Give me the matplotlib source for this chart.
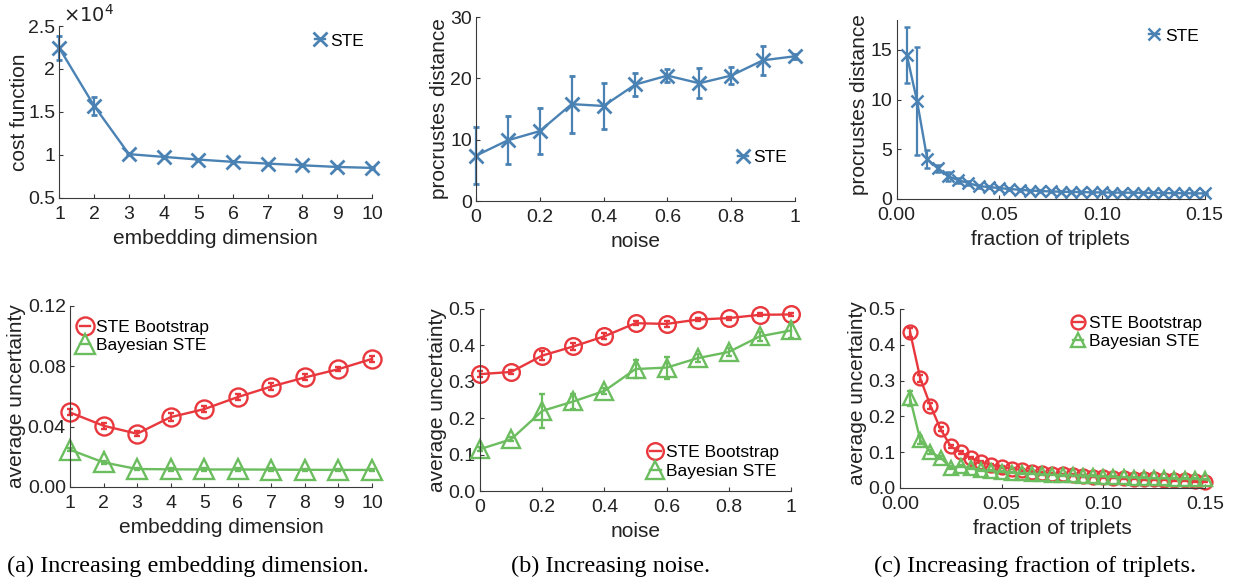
import matplotlib.pyplot as plt
from matplotlib.ticker import FixedLocator

# 字体
plt.rcParams['font.family'] = ['Liberation Sans', 'DejaVu Sans']
plt.rcParams['axes.unicode_minus'] = False

# ---------------- 数据 ----------------
dims = [1, 2, 3, 4, 5, 6, 7, 8, 9, 10]
noise = [0.0, 0.1, 0.2, 0.3, 0.4, 0.5, 0.6, 0.7, 0.8, 0.9, 1.0]
fractions = [0.005, 0.010, 0.015, 0.020, 0.025, 0.030, 0.035, 0.040, 0.045, 0.050,
             0.055, 0.060, 0.065, 0.070, 0.075, 0.080, 0.085, 0.090, 0.095, 0.100,
             0.105, 0.110, 0.115, 0.120, 0.125, 0.130, 0.135, 0.140, 0.145, 0.150]

# cost function (x 10^4)
cost_e4 = [2.24, 1.57, 1.01, 0.978, 0.947, 0.92, 0.90, 0.88, 0.861, 0.85]
cost_err_e4 = [0.14, 0.10, 0.012, 0.01, 0.01, 0.008, 0.008, 0.008, 0.008, 0.008]

# procrustes distance vs noise
proc_noise = [7.4, 9.9, 11.4, 15.8, 15.5, 19.0, 20.45, 19.2, 20.45, 22.95, 23.6]
proc_noise_err = [4.6, 3.9, 3.8, 4.65, 3.7, 1.95, 1.1, 2.45, 1.45, 2.35, 0.4]

# procrustes distance vs fraction of triplets
proc_frac = [14.5, 9.85, 4.0, 3.1, 2.3, 1.9, 1.6, 1.3, 1.2, 1.1,
             1.0, 0.93, 0.85, 0.8, 0.76, 0.73, 0.71, 0.69, 0.67, 0.66,
             0.65, 0.64, 0.63, 0.62, 0.61, 0.60, 0.59, 0.58, 0.57, 0.56]
proc_frac_err = [2.8, 5.4, 0.9, 0.35, 0.45, 0.25, 0.2, 0.15, 0.1, 0.1,
                 0.08, 0.08, 0.06, 0.06, 0.05, 0.05, 0.05, 0.05, 0.05, 0.05,
                 0.05, 0.05, 0.05, 0.05, 0.05, 0.05, 0.05, 0.05, 0.05, 0.05]

# average uncertainty vs embedding dimension
unc_dim_boot = [0.0494, 0.0406, 0.0353, 0.0463, 0.0516, 0.0596, 0.0666, 0.0726, 0.0781, 0.0849]
unc_dim_boot_err = [0.002, 0.002, 0.0015, 0.0025, 0.002, 0.002, 0.0025, 0.002, 0.0015, 0.002]
unc_dim_bayes = [0.0247, 0.0163, 0.0119, 0.0117, 0.0116, 0.0116, 0.0115, 0.0114, 0.0113, 0.0113]
unc_dim_bayes_err = [0.001, 0.001, 0.0008, 0.0008, 0.0008, 0.0008, 0.0008, 0.0008, 0.0008, 0.0008]

# average uncertainty vs noise
unc_noise_boot = [0.321, 0.327, 0.372, 0.397, 0.425, 0.461, 0.459, 0.471, 0.475, 0.484, 0.485]
unc_noise_boot_err = [0.008, 0.005, 0.012, 0.01, 0.008, 0.006, 0.008, 0.005, 0.004, 0.004, 0.004]
unc_noise_bayes = [0.115, 0.142, 0.22, 0.246, 0.275, 0.335, 0.339, 0.365, 0.382, 0.425, 0.441]
unc_noise_bayes_err = [0.005, 0.006, 0.047, 0.02, 0.008, 0.025, 0.03, 0.01, 0.01, 0.012, 0.022]

# average uncertainty vs fraction of triplets
unc_frac_boot = [0.435, 0.306, 0.23, 0.164, 0.116, 0.10, 0.083, 0.072, 0.065, 0.058,
                 0.054, 0.05, 0.046, 0.043, 0.04, 0.038, 0.036, 0.034, 0.032, 0.03,
                 0.029, 0.027, 0.026, 0.025, 0.024, 0.023, 0.022, 0.021, 0.02, 0.018]
unc_frac_boot_err = [0.012, 0.01, 0.008, 0.006, 0.005, 0.004, 0.003, 0.003, 0.002, 0.002,
                     0.002, 0.002, 0.002, 0.002, 0.002, 0.002, 0.002, 0.002, 0.002, 0.002,
                     0.002, 0.002, 0.002, 0.002, 0.002, 0.002, 0.002, 0.002, 0.002, 0.002]
unc_frac_bayes = [0.25, 0.134, 0.1, 0.085, 0.056, 0.062, 0.055, 0.05, 0.047, 0.045,
                  0.043, 0.041, 0.04, 0.038, 0.037, 0.036, 0.035, 0.034, 0.033, 0.032,
                  0.031, 0.03, 0.029, 0.028, 0.027, 0.027, 0.026, 0.025, 0.025, 0.024]
unc_frac_bayes_err = [0.02, 0.01, 0.006, 0.005, 0.004, 0.003, 0.003, 0.002, 0.002, 0.002,
                      0.002, 0.002, 0.002, 0.002, 0.002, 0.002, 0.002, 0.002, 0.002, 0.002,
                      0.002, 0.002, 0.002, 0.002, 0.002, 0.002, 0.002, 0.002, 0.002, 0.002]

captions = ['(a) Increasing embedding dimension.',
            '(b) Increasing noise.',
            '(c) Increasing fraction of triplets.']

BLUE = '#4B82B4'
RED = '#E8383D'
GREEN = '#6CBD5F'
AXC = '#3a3a3a'
TICK_FS = 14
LABEL_FS = 15
LEG_FS = 12.5

fig = plt.figure(figsize=(12.34, 5.83), dpi=100)


def make_ax(rect, xlim, ylim, xticks, xlabels, yticks, ylabels, xlabel, ylabel,
            ylab_x, ylab_y=0.5):
    ax = fig.add_axes(rect)
    ax.set_xlim(*xlim)
    ax.set_ylim(*ylim)
    ax.xaxis.set_major_locator(FixedLocator(xticks))
    ax.yaxis.set_major_locator(FixedLocator(yticks))
    ax.set_xticklabels(xlabels)
    ax.set_yticklabels(ylabels)
    for s in ['top', 'right']:
        ax.spines[s].set_visible(False)
    for s in ['left', 'bottom']:
        ax.spines[s].set_color(AXC)
        ax.spines[s].set_linewidth(0.8)
    ax.tick_params(direction='in', length=3, width=0.8, color=AXC,
                   labelsize=TICK_FS, labelcolor='#222222')
    ax.tick_params(axis='x', pad=6)
    ax.tick_params(axis='y', pad=3)
    ax.set_xlabel(xlabel, fontsize=LABEL_FS, color='#222222', labelpad=4)
    ax.set_ylabel(ylabel, fontsize=LABEL_FS, color='#222222')
    ax.yaxis.set_label_coords(ylab_x, ylab_y)
    return ax


def eb(ax, x, y, e, color, marker, ms, mew=1.7, lw=1.7):
    c = ax.errorbar(x, y, yerr=e, color=color, marker=marker, ms=ms,
                    mfc='none', mec=color, mew=mew, lw=lw,
                    elinewidth=1.6, capsize=2.5, capthick=1.6, clip_on=False)
    return c.lines[0]


def legend(ax, handles, labels, anchor):
    ax.legend(handles, labels, loc='center left', bbox_to_anchor=anchor,
              frameon=False, fontsize=LEG_FS, handlelength=0.6,
              handletextpad=0.3, borderpad=0, borderaxespad=0,
              labelspacing=0.2)


# (a) 上: cost function
ax1 = make_ax([0.0482, 0.6604, 0.2532, 0.295], (1, 10), (0.5, 2.5),
              dims, [str(d) for d in dims],
              [0.5, 1, 1.5, 2, 2.5], ['0.5', '1', '1.5', '2', '2.5'],
              'embedding dimension', 'cost function', -0.099)
h = eb(ax1, dims, cost_e4, cost_err_e4, BLUE, 'x', 10, mew=2.0)
legend(ax1, [h], ['STE'], (0.818, 0.913))
ax1.text(0.011, 1.025, r'$\times 10^4$', transform=ax1.transAxes,
         fontsize=14, color='#222222', va='baseline', ha='left')

# (b) 上: procrustes vs noise
ax2 = make_ax([0.3857, 0.6552, 0.2585, 0.3156], (0, 1), (0, 30),
              [0, 0.2, 0.4, 0.6, 0.8, 1], ['0', '0.2', '0.4', '0.6', '0.8', '1'],
              [0, 10, 20, 30], ['0', '10', '20', '30'],
              'noise', 'procrustes distance', -0.083)
h = eb(ax2, noise, proc_noise, proc_noise_err, BLUE, 'x', 10, mew=2.0)
legend(ax2, [h], ['STE'], (0.821, 0.239))

# (c) 上: procrustes vs fraction
ax3 = make_ax([0.7265, 0.6587, 0.2496, 0.307], (0, 0.15), (0, 18),
              [0, 0.05, 0.10, 0.15], ['0.00', '0.05', '0.10', '0.15'],
              [0, 5, 10, 15], ['0', '5', '10', '15'],
              'fraction of triplets', 'procrustes distance', -0.09, 0.53)
h = eb(ax3, fractions, proc_frac, proc_frac_err, BLUE, 'x', 8.5, mew=1.8)
legend(ax3, [h], ['STE'], (0.82, 0.911))

# (a) 下: uncertainty vs dimension
ax4 = make_ax([0.0567, 0.1647, 0.2447, 0.3105], (1, 10), (0, 0.12),
              dims, [str(d) for d in dims],
              [0, 0.04, 0.08, 0.12], ['0.00', '0.04', '0.08', '0.12'],
              'embedding dimension', 'average uncertainty', -0.145)
h1 = eb(ax4, dims, unc_dim_boot, unc_dim_boot_err, RED, 'o', 13)
h2 = eb(ax4, dims, unc_dim_bayes, unc_dim_bayes_err, GREEN, '^', 14)
legend(ax4, [h1, h2], ['STE Bootstrap', 'Bayesian STE'], (0.033, 0.831))

# (b) 下: uncertainty vs noise
ax5 = make_ax([0.389, 0.1578, 0.252, 0.3122], (0, 1), (0, 0.5),
              [0, 0.2, 0.4, 0.6, 0.8, 1], ['0', '0.2', '0.4', '0.6', '0.8', '1'],
              [0, 0.1, 0.2, 0.3, 0.4, 0.5], ['0.0', '0.1', '0.2', '0.3', '0.4', '0.5'],
              'noise', 'average uncertainty', -0.105)
h1 = eb(ax5, noise, unc_noise_boot, unc_noise_boot_err, RED, 'o', 12)
h2 = eb(ax5, noise, unc_noise_bayes, unc_noise_bayes_err, GREEN, '^', 13)
legend(ax5, [h1, h2], ['STE Bootstrap', 'Bayesian STE'], (0.547, 0.159))

# (c) 下: uncertainty vs fraction
ax6 = make_ax([0.7293, 0.163, 0.2472, 0.307], (0, 0.15), (0, 0.5),
              [0, 0.05, 0.10, 0.15], ['0.00', '0.05', '0.10', '0.15'],
              [0, 0.1, 0.2, 0.3, 0.4, 0.5], ['0.0', '0.1', '0.2', '0.3', '0.4', '0.5'],
              'fraction of triplets', 'average uncertainty', -0.107, 0.53)
h1 = eb(ax6, fractions, unc_frac_boot, unc_frac_boot_err, RED, 'o', 10)
h2 = eb(ax6, fractions, unc_frac_bayes, unc_frac_bayes_err, GREEN, '^', 10)
legend(ax6, [h1, h2], ['STE Bootstrap', 'Bayesian STE'], (0.567, 0.869))

# 子图标题
for xc, cap in zip([188 / 1234, 611 / 1234, 1035 / 1234], captions):
    fig.text(xc, 1 - 566 / 583, cap, ha='center', va='center',
             fontsize=17.5, family=['Liberation Serif', 'DejaVu Serif'])

fig.savefig('out.png', dpi=100)
